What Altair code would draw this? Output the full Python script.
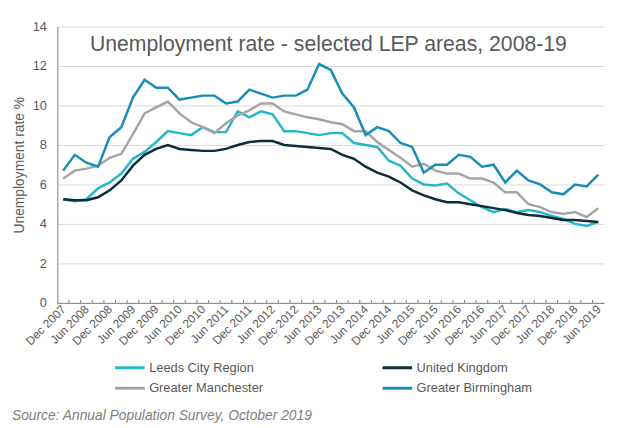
import altair as alt
import pandas as pd

periods = ["Dec 2007", "Mar 2008", "Jun 2008", "Sep 2008", "Dec 2008", "Mar 2009", "Jun 2009",
           "Sep 2009", "Dec 2009", "Mar 2010", "Jun 2010", "Sep 2010", "Dec 2010", "Mar 2011",
           "Jun 2011", "Sep 2011", "Dec 2011", "Mar 2012", "Jun 2012", "Sep 2012", "Dec 2012",
           "Mar 2013", "Jun 2013", "Sep 2013", "Dec 2013", "Mar 2014", "Jun 2014", "Sep 2014",
           "Dec 2014", "Mar 2015", "Jun 2015", "Sep 2015", "Dec 2015", "Mar 2016", "Jun 2016",
           "Sep 2016", "Dec 2016", "Mar 2017", "Jun 2017", "Sep 2017", "Dec 2017", "Mar 2018",
           "Jun 2018", "Sep 2018", "Dec 2018", "Mar 2019", "Jun 2019"]

leeds = [5.25, 5.15, 5.25, 5.8, 6.1, 6.55, 7.3, 7.65, 8.15, 8.7,
         8.6, 8.5, 8.9, 8.65, 8.65, 9.7, 9.4, 9.7, 9.55, 8.7,
         8.7, 8.6, 8.5, 8.6, 8.6, 8.1, 8.0, 7.9, 7.2, 6.95,
         6.3, 6.0, 5.95, 6.05, 5.55, 5.2, 4.85, 4.6, 4.75, 4.6,
         4.7, 4.6, 4.4, 4.25, 4.0, 3.9, 4.1]
uk = [5.25, 5.2, 5.2, 5.35, 5.7, 6.2, 6.95, 7.5, 7.8, 8.0,
      7.8, 7.75, 7.7, 7.7, 7.8, 8.0, 8.15, 8.2, 8.2, 8.0,
      7.95, 7.9, 7.85, 7.8, 7.5, 7.3, 6.9, 6.6, 6.4, 6.1,
      5.7, 5.45, 5.25, 5.1, 5.1, 5.0, 4.9, 4.8, 4.7, 4.55,
      4.45, 4.4, 4.3, 4.2, 4.2, 4.15, 4.1]
manchester = [6.3, 6.7, 6.8, 6.95, 7.35, 7.55, 8.55, 9.6, 9.9, 10.2,
              9.6, 9.15, 8.9, 8.6, 9.1, 9.5, 9.75, 10.1, 10.1, 9.7,
              9.55, 9.4, 9.3, 9.15, 9.05, 8.7, 8.7, 8.15, 7.75, 7.35,
              6.9, 7.05, 6.7, 6.55, 6.55, 6.3, 6.3, 6.1, 5.6, 5.6,
              5.0, 4.85, 4.6, 4.5, 4.6, 4.35, 4.8]
birmingham = [6.7, 7.5, 7.1, 6.9, 8.4, 8.9, 10.4, 11.3, 10.9, 10.9,
              10.3, 10.4, 10.5, 10.5, 10.1, 10.2, 10.8, 10.6, 10.4, 10.5,
              10.5, 10.8, 12.1, 11.8, 10.6, 9.9, 8.5, 8.9, 8.7, 8.1,
              7.9, 6.6, 7.0, 7.0, 7.5, 7.4, 6.9, 7.0, 6.1, 6.7,
              6.2, 6.0, 5.6, 5.5, 6.0, 5.9, 6.5]

series_names = ["Leeds City Region", "United Kingdom", "Greater Manchester", "Greater Birmingham"]
series_colors = ["#25B7C7", "#0C2D3A", "#A5A5A5", "#188EB7"]

title_text = "Unemployment rate - selected LEP areas, 2008-19"
source_text = "Source: Annual Population Survey, October 2019"

rows = []
for name, vals in zip(series_names, [leeds, uk, manchester, birmingham]):
    for p, v in zip(periods, vals):
        rows.append({"period": p, "series": name, "value": v})
df = pd.DataFrame(rows)

W, H = 554, 280
FONT = "Liberation Sans"
half_step = W / len(periods) / 2

x_axis = alt.Axis(
    title=None, labelAngle=-45, ticks=False, domainColor="#808080",
    labelExpr="slice(datum.value,0,3)=='Dec' || slice(datum.value,0,3)=='Jun' ? datum.value : ''",
    labelOverlap=False, labelColor="#595959", labelFontSize=12, labelFont=FONT,
    labelPadding=4, labelAlign="right", labelBaseline="middle", labelBound=False,
)
x_enc = alt.X("period:O", sort=periods, scale=alt.Scale(type="point", padding=0.5), axis=x_axis)

lines = alt.Chart(df).mark_line(strokeWidth=2.5).encode(
    x=x_enc,
    y=alt.Y("value:Q", scale=alt.Scale(domain=[0, 14], nice=False),
            axis=alt.Axis(values=list(range(0, 15, 2)), title="Unemployment rate %",
                          ticks=False, labelPadding=11, labelFontSize=13, labelColor="#595959",
                          labelFont=FONT, titleFont=FONT, titleFontSize=14,
                          titleFontWeight="normal", titleColor="#595959", titlePadding=6,
                          domainColor="#808080", gridColor="#D9D9D9")),
    color=alt.Color("series:N", scale=alt.Scale(domain=series_names, range=series_colors),
                    legend=alt.Legend(title=None, orient="none", legendX=67, legendY=339,
                                      direction="horizontal",
                                      columns=2, columnPadding=114, rowPadding=7,
                                      symbolType="M-3,0H3", symbolSize=100, symbolStrokeWidth=3,
                                      labelFontSize=13, labelFont=FONT, labelColor="#595959",
                                      labelOffset=13, padding=0)),
    detail="series:N",
)

ticks = alt.Chart(pd.DataFrame({"period": periods[:-1]})).mark_rule(
    color="#808080", strokeWidth=1, xOffset=half_step
).encode(
    x=alt.X("period:O", sort=periods),
    y=alt.value(H - 3), y2=alt.value(H),
)

title = alt.Chart(alt.Data(values=[{"t": title_text}])).mark_text(
    align="left", baseline="alphabetic", fontSize=21.5, color="#595959", font=FONT
).encode(x=alt.value(33), y=alt.value(25), text="t:N")

source = alt.Chart(alt.Data(values=[{"t": source_text}])).mark_text(
    align="left", baseline="alphabetic", fontSize=14, fontStyle="italic",
    color="#7F7F7F", font=FONT
).encode(x=alt.value(-46), y=alt.value(399), text="t:N")

chart = alt.layer(lines, ticks, title, source).properties(
    width=W, height=H,
    padding={"left": 50, "top": 16, "right": 7, "bottom": 124},
    autosize=alt.AutoSizeParams(type="none"),
).configure_view(stroke=None)

chart.save("out.html", embed_options={"renderer": "svg", "actions": False})
